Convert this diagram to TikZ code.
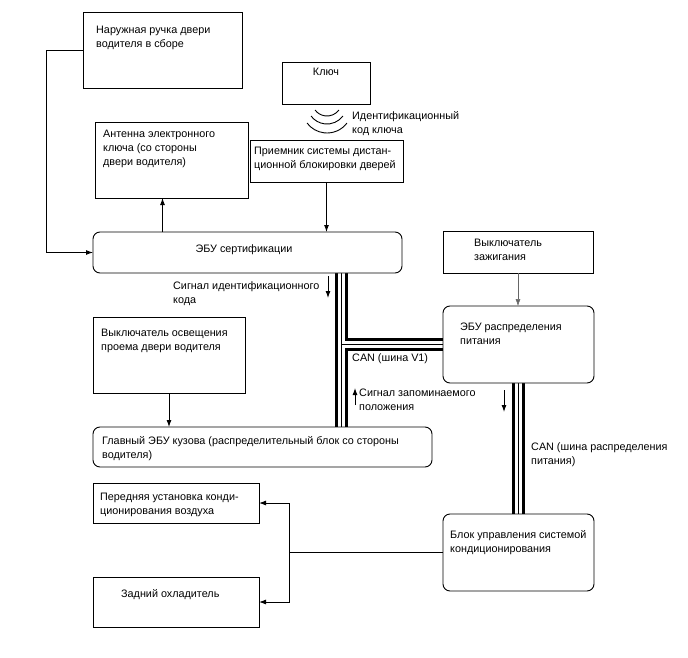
\documentclass[tikz,border=0pt]{standalone}
\usepackage{fontspec}
\setmainfont{Liberation Sans}
\usetikzlibrary{arrows.meta,backgrounds}
\tikzset{
  unitbox/.style={
    draw=black,
    line width=0.9pt,
    fill=white,
    anchor=north west,
    inner sep=0pt,
    outer sep=0pt
  },
  ecubox/.style={unitbox, rounded corners=7pt},
  boxtext/.style={
    anchor=north west,
    inner sep=0pt,
    align=left,
    font=\fontsize{10.8}{14}\selectfont
  },
  flowarrow/.style={-{Latex[length=7pt,width=5pt]},line width=0.9pt,draw=black},
  thinarrow/.style={-{Latex[length=7pt,width=5pt]},line width=0.5pt,draw=black!60},
  busouter/.style={line width=13pt,draw=black},
  businner/.style={line width=7pt,draw=white},
  buscore/.style={line width=0.8pt,draw=black}
}
\begin{document}
\begin{tikzpicture}[x=1pt,y=-1pt]
  \useasboundingbox (0,0) rectangle (688,658);
  % boxes
  \node[unitbox, minimum width=159pt, minimum height=76pt] (handle) at (83,12) {};
  \node[unitbox, minimum width=88pt, minimum height=42pt] (key) at (282,62) {};
  \node[unitbox, minimum width=153pt, minimum height=76pt] (antenna) at (95,122) {};
  \node[unitbox, minimum width=153pt, minimum height=42pt] (receiver) at (250,140) {};
  \node[ecubox, minimum width=309pt, minimum height=41pt] (cert) at (93,232) {};
  \node[unitbox, minimum width=150pt, minimum height=42pt] (ignition) at (443,231) {};
  \node[ecubox, minimum width=151pt, minimum height=77pt] (powerdist) at (443,306) {};
  \node[unitbox, minimum width=152pt, minimum height=76pt] (doorlamp) at (93,317) {};
  \node[ecubox, minimum width=339pt, minimum height=40pt] (mainbody) at (93,427) {};
  \node[ecubox, minimum width=151pt, minimum height=77pt] (aircon) at (443,514) {};
  \node[unitbox, minimum width=166pt, minimum height=40pt] (frontac) at (93,483) {};
  \node[unitbox, minimum width=166pt, minimum height=50pt] (rearcool) at (93,577) {};
  % texts
  \node[boxtext] (handle-t) at (96,26) {Наружная ручка двери\\водителя в сборе};
  \node[boxtext, anchor=north] (key-t) at (326,68) {Ключ};
  \node[boxtext] (antenna-t) at (103,130) {Антенна электронного\\ключа (со стороны\\двери водителя)};
  \node[boxtext] (receiver-t) at (254,147) {Приемник системы дистан-\\ционной блокировки дверей};
  \node[boxtext] (idcode-t) at (352,111) {Идентификационный\\код ключа};
  \node[boxtext, anchor=north] (cert-t) at (244,244) {ЭБУ сертификации};
  \node[boxtext] (ignition-t) at (474,239) {Выключатель\\зажигания};
  \node[boxtext] (powerdist-t) at (460,323) {ЭБУ распределения\\питания};
  \node[boxtext] (doorlamp-t) at (101,329) {Выключатель освещения\\проема двери водителя};
  \node[boxtext] (mainbody-t) at (102,436) {Главный ЭБУ кузова (распределительный блок со стороны\\водителя)};
  \node[boxtext] (aircon-t) at (450,530) {Блок управления системой\\кондиционирования};
  \node[boxtext] (frontac-t) at (100,493) {Передняя установка конди-\\ционирования воздуха};
  \node[boxtext] (rearcool-t) at (121,589) {Задний охладитель};
  \node[boxtext] (idsig-t) at (173,281) {Сигнал идентификационного\\кода};
  \node[boxtext] (canv1-t) at (352,353) {CAN (шина V1)};
  \node[boxtext] (memsig-t) at (359,389) {Сигнал запоминаемого\\положения};
  \node[boxtext] (canpd-t) at (531,442) {CAN (шина распределения\\питания)};
  % CAN buses
  \coordinate (v1x) at (341,0);
  \begin{scope}[on background layer]
    \draw[busouter] (cert.south -| v1x) -- (mainbody.north -| v1x);
    \draw[busouter] (v1x |- powerdist.west) -- (powerdist.west);
    \draw[busouter] (powerdist.south) -- (aircon.north);
    \draw[businner] (cert.south -| v1x) -- (mainbody.north -| v1x);
    \draw[businner] (v1x |- powerdist.west) -- (powerdist.west);
    \draw[businner] (powerdist.south) -- (aircon.north);
    \draw[buscore] (cert.south -| v1x) -- (mainbody.north -| v1x);
    \draw[buscore] (v1x |- powerdist.west) -- (powerdist.west);
    \draw[buscore] (powerdist.south) -- (aircon.north);
  \end{scope}
  % key radio waves
  \foreach \r/\yb in {15/116,20/124,25/133}
    \draw[line width=0.9pt] ([shift={(37:\r)}]327,\yb-\r) arc[start angle=37,end angle=143,radius=\r];
  % connectors
  \draw[flowarrow] (handle.west) -- ++(-37,0) |- (cert.west);
  \draw[flowarrow] ([xshift=-9pt]antenna.south |- cert.north) -- ([xshift=-9pt]antenna.south);
  \draw[flowarrow] (receiver.south) -- (receiver.south |- cert.north);
  \draw[thinarrow] (ignition.south) -- (ignition.south |- powerdist.north);
  \draw[flowarrow] (doorlamp.south) -- (doorlamp.south |- mainbody.north);
  \coordinate (acsplit) at (289,552);
  \draw[line width=0.9pt] (aircon.west) -- (aircon.west -| acsplit);
  \draw[flowarrow] (aircon.west -| acsplit) |- (frontac.east);
  \draw[flowarrow] (aircon.west -| acsplit) |- (rearcool.east);
  % signal direction arrows
  \coordinate (idsig-a) at (328,276);
  \coordinate (idsig-b) at (328,298);
  \coordinate (memsig-a) at (355,405);
  \coordinate (memsig-b) at (355,388);
  \coordinate (pdsig-a) at (504,390);
  \coordinate (pdsig-b) at (504,412);
  \draw[flowarrow] (idsig-a) -- (idsig-b);
  \draw[flowarrow] (memsig-a) -- (memsig-b);
  \draw[flowarrow] (pdsig-a) -- (pdsig-b);
\end{tikzpicture}
\end{document}
